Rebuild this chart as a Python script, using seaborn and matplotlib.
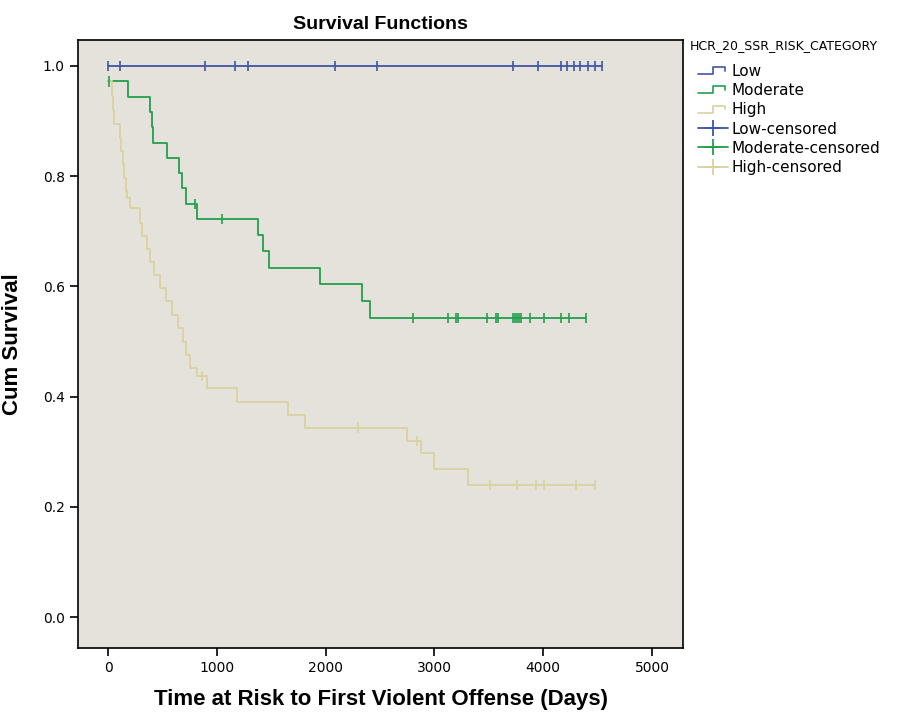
import numpy as np
import pandas as pd
import matplotlib
matplotlib.use("Agg")
import matplotlib.pyplot as plt
from matplotlib.lines import Line2D
from matplotlib.legend_handler import HandlerBase
import seaborn as sns

# step points (time in days, cumulative survival after the step)
low_times = [0, 4540]
low_surv = [1.0, 1.0]
low_censored = [0, 110, 890, 1170, 1290, 2090, 2470, 3720, 3950, 4160,
                4220, 4280, 4340, 4410, 4480, 4540]

mod_times = [0, 187, 386, 401, 417, 545, 655, 677, 717, 821, 1382, 1422,
             1483, 1949, 2338, 2408, 4390]
mod_surv = [0.972, 0.944, 0.917, 0.889, 0.861, 0.833, 0.806, 0.778, 0.750,
            0.722, 0.693, 0.665, 0.634, 0.604, 0.573, 0.543, 0.543]
mod_censored = [10, 800, 1045, 2800, 3122, 3196, 3220, 3480, 3566, 3587,
                3719, 3741, 3756, 3778, 3796, 3879, 4010, 4160, 4240, 4390]

high_times = [0, 40, 45, 50, 110, 120, 135, 150, 165, 175, 200, 290, 312,
              358, 386, 423, 478, 533, 588, 643, 689, 717, 754, 820, 905,
              1183, 1650, 1810, 2751, 2880, 3000, 3311, 4476]
high_surv = [0.972, 0.946, 0.921, 0.895, 0.870, 0.846, 0.822, 0.797, 0.773,
             0.760, 0.742, 0.716, 0.692, 0.668, 0.645, 0.621, 0.597, 0.573,
             0.549, 0.525, 0.500, 0.476, 0.452, 0.437, 0.415, 0.391, 0.367,
             0.344, 0.320, 0.298, 0.268, 0.240, 0.240]
high_censored = [861, 2300, 2837, 3511, 3756, 3931, 4010, 4301, 4476]

groups = ["Low", "Moderate", "High"]
colors = {"Low": "#3d55a6", "Moderate": "#22a04c", "High": "#d8d2a0"}


def surv_at(times, surv, t):
    idx = np.searchsorted(times, t, side="right") - 1
    return np.asarray(surv)[idx]


class StepHandler(HandlerBase):
    # little step icon like the SPSS legend
    def create_artists(self, legend, orig_handle, xdescent, ydescent,
                       width, height, fontsize, trans):
        x0, y0 = -xdescent, -ydescent
        xs = [x0, x0 + 0.5 * width, x0 + 0.5 * width, x0 + 0.9 * width,
              x0 + 0.9 * width]
        ys = [y0 + 0.15 * height, y0 + 0.15 * height, y0 + 0.8 * height,
              y0 + 0.8 * height, y0 + 0.45 * height]
        line = Line2D(xs, ys, color=orig_handle.get_color(), lw=1.2,
                      transform=trans)
        return [line]


curves = []
marks = []
for g, t, s, c in [("Low", low_times, low_surv, low_censored),
                   ("Moderate", mod_times, mod_surv, mod_censored),
                   ("High", high_times, high_surv, high_censored)]:
    curves.append(pd.DataFrame({"time": t, "surv": s, "group": g}))
    marks.append(pd.DataFrame({"time": c, "surv": surv_at(t, s, c), "group": g}))
curves = pd.concat(curves, ignore_index=True)
marks = pd.concat(marks, ignore_index=True)

sns.set_style("ticks")
plt.rcParams["font.family"] = ["DejaVu Sans"]
plt.rcParams["text.color"] = "black"
plt.rcParams["axes.labelcolor"] = "black"
label_font = ["Liberation Sans Narrow", "Liberation Sans", "DejaVu Sans"]

fig = plt.figure(figsize=(8.99, 7.16), dpi=100)
ax = fig.add_axes([0.0868, 0.095, 0.673, 0.849])
ax.set_facecolor("#e5e1db")

sns.lineplot(data=curves, x="time", y="surv", hue="group", hue_order=groups,
             palette=colors, estimator=None, sort=False, drawstyle="steps-post",
             linewidth=1.3, legend=False, ax=ax)
sns.scatterplot(data=marks, x="time", y="surv", hue="group", hue_order=groups,
                palette=colors, marker="|", s=55, linewidth=1.2, legend=False,
                ax=ax, zorder=3)

ax.set_xlim(-276, 5285)
ax.set_ylim(-0.056, 1.047)
ax.set_xticks(range(0, 5001, 1000))
ax.set_yticks([0.0, 0.2, 0.4, 0.6, 0.8, 1.0])
ax.set_yticklabels(["0.0", "0.2", "0.4", "0.6", "0.8", "1.0"])
ax.tick_params(axis="both", direction="out", length=6, width=1.2,
               labelsize=10, colors="black")
for side in ["top", "right", "left", "bottom"]:
    ax.spines[side].set_visible(True)
    ax.spines[side].set_linewidth(1.2)
    ax.spines[side].set_color("black")

ax.set_xlabel("Time at Risk to First Violent Offense (Days)", fontsize=16,
              fontweight="bold", family=label_font, labelpad=10)
ax.set_ylabel("Cum Survival", fontsize=16, fontweight="bold",
              family=label_font, labelpad=14)
ax.set_title("Survival Functions", fontsize=14, fontweight="bold",
             family=label_font, pad=8)

step_handles = [Line2D([], [], color=colors[g]) for g in groups]
cens_handles = [Line2D([], [], color=colors[g], lw=1.3, marker="+",
                       markersize=11, markeredgewidth=1.3) for g in groups]
labels = groups + [g + "-censored" for g in groups]
fig.text(0.767, 0.937, "HCR_20_SSR_RISK_CATEGORY", fontsize=9,
         ha="left", va="center")
leg = fig.legend(step_handles + cens_handles, labels,
                 handler_map={h: StepHandler() for h in step_handles},
                 loc="upper left", bbox_to_anchor=(0.776, 0.911),
                 frameon=False, fontsize=11,
                 handlelength=2.0, handletextpad=0.2, labelspacing=0.28,
                 borderaxespad=0.0, borderpad=0.0)

fig.savefig("out.png", dpi=100)
